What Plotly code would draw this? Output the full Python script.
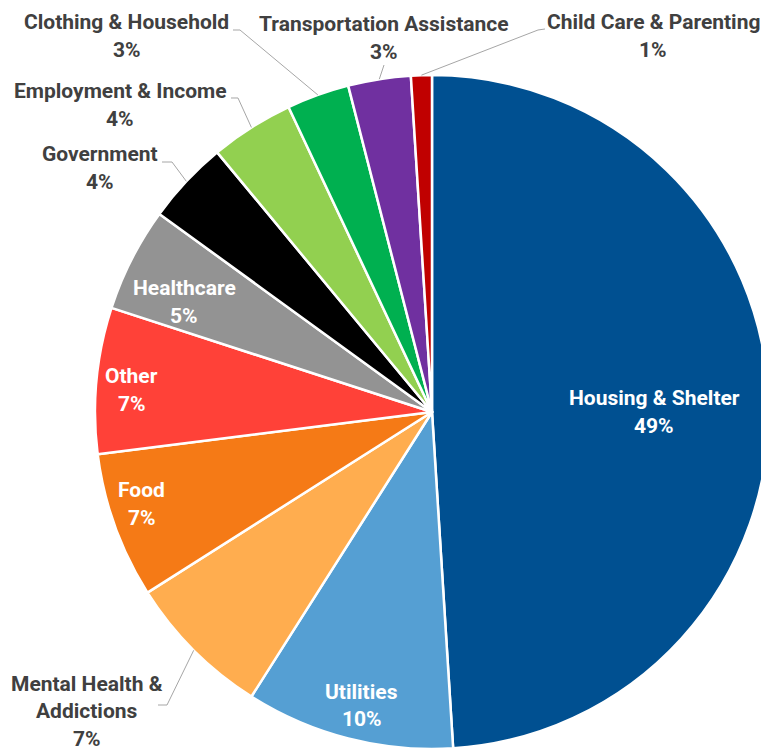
import math
import plotly.graph_objects as go

# ---------------- data ----------------
categories = [
    "Housing & Shelter", "Utilities", "Mental Health & Addictions", "Food",
    "Other", "Healthcare", "Government", "Employment & Income",
    "Clothing & Household", "Transportation Assistance", "Child Care & Parenting",
]
values = [49, 10, 7, 7, 7, 5, 4, 4, 3, 3, 1]
colors = [
    "#005091", "#559fd3", "#ffad4f", "#f57a16", "#ff4138", "#939393",
    "#000000", "#92d050", "#00b050", "#7030a0", "#c00000",
]

# ---------------- geometry (page pixels) ----------------
OX, OY = 8, 8            # page offset of the figure (body margin)
W, H = 769 - OX, 751 - OY
CX, CY, R = 432, 412, 337

def px(x):
    return (x - OX) / W

def py(y):
    return 1 - (y - OY) / H

FONT = "Roboto"
TEXT_DARK = "#404040"
LINE_H = 27.5
FS = 21

total = sum(values)
mid_angle = {}
cum = 0
for c, v in zip(categories, values):
    mid_angle[c] = 2 * math.pi * (cum + v / 2) / total
    cum += v

def slice_point(cat, frac, ddeg=0.0):
    a = mid_angle[cat] + math.radians(ddeg)
    return CX + frac * R * math.sin(a), CY - frac * R * math.cos(a)

fig = go.Figure(go.Pie(
    labels=categories,
    values=values,
    sort=False,
    direction="clockwise",
    rotation=0,
    marker=dict(colors=colors, line=dict(color="white", width=2.5)),
    textinfo="none",
    hoverinfo="label+percent",
    domain=dict(
        x=[max(0, px(CX - R)), min(1, px(CX + R))],
        y=[max(0, py(CY + R)), min(1, py(CY - R))],
    ),
    showlegend=False,
))

annotations = []
shapes = []

def add_lines(lines, x, yc, color):
    n = len(lines)
    for i, t in enumerate(lines):
        yy = yc + (i - (n - 1) / 2) * LINE_H
        annotations.append(dict(
            text=t, x=px(x), y=py(yy), xref="paper", yref="paper",
            xanchor="center", yanchor="middle", showarrow=False,
            font=dict(family=FONT, size=FS, color=color, weight=700),
        ))

# inside labels: category -> (radial fraction, angular nudge in degrees)
inside = {
    "Housing & Shelter": (0.66, 1.8),
    "Utilities": (0.895, -0.9),
    "Food": (0.904, 2.2),
    "Other": (0.894, -1.2),
    "Healthcare": (0.804, -3.1),
}
for c, v in zip(categories, values):
    if c in inside:
        f, dd = inside[c]
        x, y = slice_point(c, f, dd)
        add_lines([c, f"{v}%"], x, y, "white")

# outside labels: category -> (lines, label centre, leader-line elbow points)
outside = {
    "Clothing & Household": (["Clothing & Household"], (127, 36), [(233, 30), (240, 30)]),
    "Transportation Assistance": (["Transportation Assistance"], (384, 38), [(384, 65)]),
    "Child Care & Parenting": (["Child Care & Parenting"], (653, 36), [(545, 29), (538, 30)]),
    "Employment & Income": (["Employment & Income"], (120, 105), [(231, 98), (238, 98)]),
    "Government": (["Government"], (100, 168), [(162, 162), (172, 162)]),
    "Mental Health & Addictions": (["Mental Health &", "Addictions"], (87, 711), [(158, 705), (167, 705)]),
}
for c, v in zip(categories, values):
    if c in outside:
        lines, (lx, ly), elbow = outside[c]
        add_lines(lines + [f"{v}%"], lx, ly, TEXT_DARK)
        ex, ey = slice_point(c, 1.0)
        pts = elbow + [(ex, ey)]
        d = "M " + " L ".join(f"{px(a):.5f},{py(b):.5f}" for a, b in pts)
        shapes.append(dict(type="path", path=d, xref="paper", yref="paper",
                           line=dict(color="#a6a6a6", width=1)))

fig.update_layout(
    width=W, height=H,
    margin=dict(l=0, r=0, t=0, b=0),
    paper_bgcolor="white",
    plot_bgcolor="white",
    annotations=annotations,
    shapes=shapes,
)

fig.write_html("out.html")
